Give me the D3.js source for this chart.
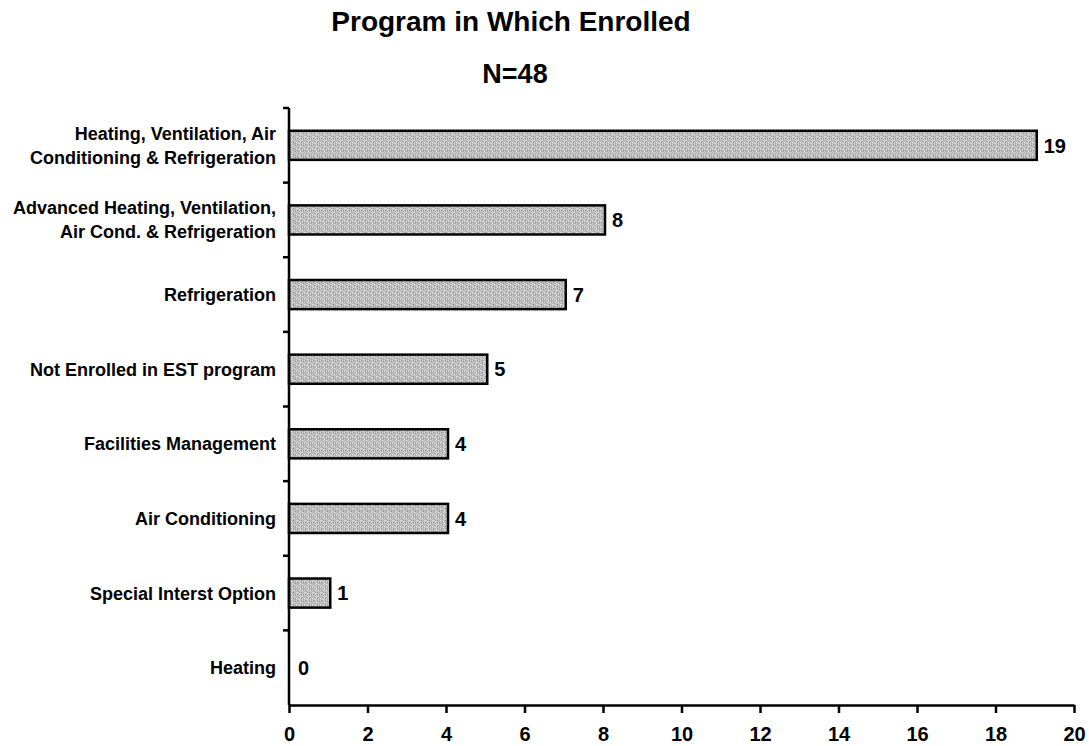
<!DOCTYPE html>
<html>
<head>
<meta charset="utf-8">
<script src="https://cdn.jsdelivr.net/npm/d3@7"></script>
<style>
  body { margin: 0; background: #fff; }
  text { font-family: "Liberation Sans", Arial, sans-serif; font-weight: bold; fill: #000; }
</style>
</head>
<body>
<div id="chart"></div>
<script>
(function () {

  // categories from top to bottom, labels split into lines
  const programs = [
    ['Heating, Ventilation, Air', 'Conditioning & Refrigeration'],
    ['Advanced Heating, Ventilation,', 'Air Cond. & Refrigeration'],
    ['Refrigeration'],
    ['Not Enrolled in EST program'],
    ['Facilities Management'],
    ['Air Conditioning'],
    ['Special Interst Option'],
    ['Heating']
  ]
  const counts = [19, 8, 7, 5, 4, 4, 1, 0]
  const xTicks = [0, 2, 4, 6, 8, 10, 12, 14, 16, 18, 20]

  const W = 1089
  const H = 746
  const margin = { top: 108, left: 289 }
  const width = 1074 - margin.left
  const height = 705 - margin.top

  const svg = d3.select('#chart').append('svg')
    .attr('width', W)
    .attr('height', H)

  // speckled grey fill, a bit like the scanned bars
  const defs = svg.append('defs')
  const pat = defs.append('pattern')
    .attr('id', 'speckle')
    .attr('patternUnits', 'userSpaceOnUse')
    .attr('width', 8)
    .attr('height', 6)
  pat.append('rect').attr('width', 8).attr('height', 6).attr('fill', '#bdbdbd')
  const dots = [[0, 0, '#8c8c8c'], [3, 1, '#e4e4e4'], [1, 3, '#9c9c9c'], [4, 4, '#858585'],
    [5, 2, '#dedede'], [2, 5, '#e8e8e8'], [4, 0, '#a4a4a4'], [0, 4, '#d6d6d6'],
    [6, 1, '#959595'], [7, 4, '#e0e0e0'], [6, 5, '#a0a0a0'], [2, 2, '#d0d0d0'],
    [7, 0, '#d8d8d8'], [5, 5, '#cfcfcf'], [1, 1, '#b0b0b0'], [3, 3, '#dadada']]
  pat.selectAll('rect.d')
    .data(dots)
    .join('rect')
    .attr('class', 'd')
    .attr('x', d => d[0])
    .attr('y', d => d[1])
    .attr('width', 1)
    .attr('height', 1)
    .attr('fill', d => d[2])

  const g = svg.append('g')
    .attr('transform', 'translate(' + margin.left + ',' + margin.top + ')')

  const xPositionScale = d3.scaleLinear()
    .domain([0, 20])
    .range([0, width])

  const yPositionScale = d3.scaleBand()
    .domain(d3.range(programs.length))
    .range([0, height])
    .paddingInner(0.61)
    .paddingOuter(0.305)

  const bandStep = height / programs.length

  // bars
  g.selectAll('rect.bar')
    .data(counts)
    .join('rect')
    .attr('class', 'bar')
    .attr('x', 0)
    .attr('y', (d, i) => yPositionScale(i))
    .attr('width', d => xPositionScale(d) + (d > 0 ? 2 : 0))
    .attr('height', yPositionScale.bandwidth())
    .attr('fill', 'url(#speckle)')
    .attr('stroke', d => d > 0 ? '#000' : 'none')
    .attr('stroke-width', 2.5)

  // value labels
  g.selectAll('text.val')
    .data(counts)
    .join('text')
    .attr('class', 'val')
    .attr('x', d => xPositionScale(d) + 9)
    .attr('y', (d, i) => yPositionScale(i) + yPositionScale.bandwidth() / 2)
    .attr('dy', '0.36em')
    .style('font-size', '20px')
    .text(d => d)

  // category labels
  const labels = g.selectAll('text.cat')
    .data(programs)
    .join('text')
    .attr('class', 'cat')
    .attr('text-anchor', 'end')
    .attr('x', -13)
    .attr('y', (d, i) => yPositionScale(i) + yPositionScale.bandwidth() / 2)
    .style('font-size', '18px')

  labels.selectAll('tspan')
    .data(d => d.map((t, k) => ({ t: t, k: k, n: d.length })))
    .join('tspan')
    .attr('x', -13)
    .attr('dy', d => d.k === 0 ? (0.36 - (d.n - 1) * 0.667) + 'em' : '1.333em')
    .text(d => d.t)

  // y axis line with ticks on band edges
  g.append('line')
    .attr('x1', 0).attr('x2', 0)
    .attr('y1', 0).attr('y2', height)
    .attr('stroke', '#000')
    .attr('stroke-width', 2.5)

  g.selectAll('line.ytick')
    .data(d3.range(programs.length))
    .join('line')
    .attr('class', 'ytick')
    .attr('x1', -6).attr('x2', 0)
    .attr('y1', i => i * bandStep)
    .attr('y2', i => i * bandStep)
    .attr('stroke', '#000')
    .attr('stroke-width', 2.5)

  // x axis
  const xAxis = d3.axisBottom(xPositionScale)
    .tickValues(xTicks)
    .tickSize(8)
    .tickPadding(14)
    .tickSizeOuter(0)

  const xg = g.append('g')
    .attr('class', 'axis x-axis')
    .attr('transform', 'translate(0,' + height + ')')
    .call(xAxis)

  xg.select('.domain').attr('stroke', '#000').attr('stroke-width', 2.5)
  xg.selectAll('.tick line').attr('stroke', '#000').attr('stroke-width', 2.5)
  xg.selectAll('.tick text')
    .style('font-size', '20px')
    .style('font-family', '"Liberation Sans", Arial, sans-serif')
    .style('font-weight', 'bold')
    .attr('fill', '#000')

  // titles
  svg.append('text')
    .attr('x', 511)
    .attr('y', 31)
    .attr('text-anchor', 'middle')
    .style('font-size', '28px')
    .text('Program in Which Enrolled')

  svg.append('text')
    .attr('x', 515)
    .attr('y', 83)
    .attr('text-anchor', 'middle')
    .style('font-size', '27px')
    .text('N=48')

})();
</script>
</body>
</html>
